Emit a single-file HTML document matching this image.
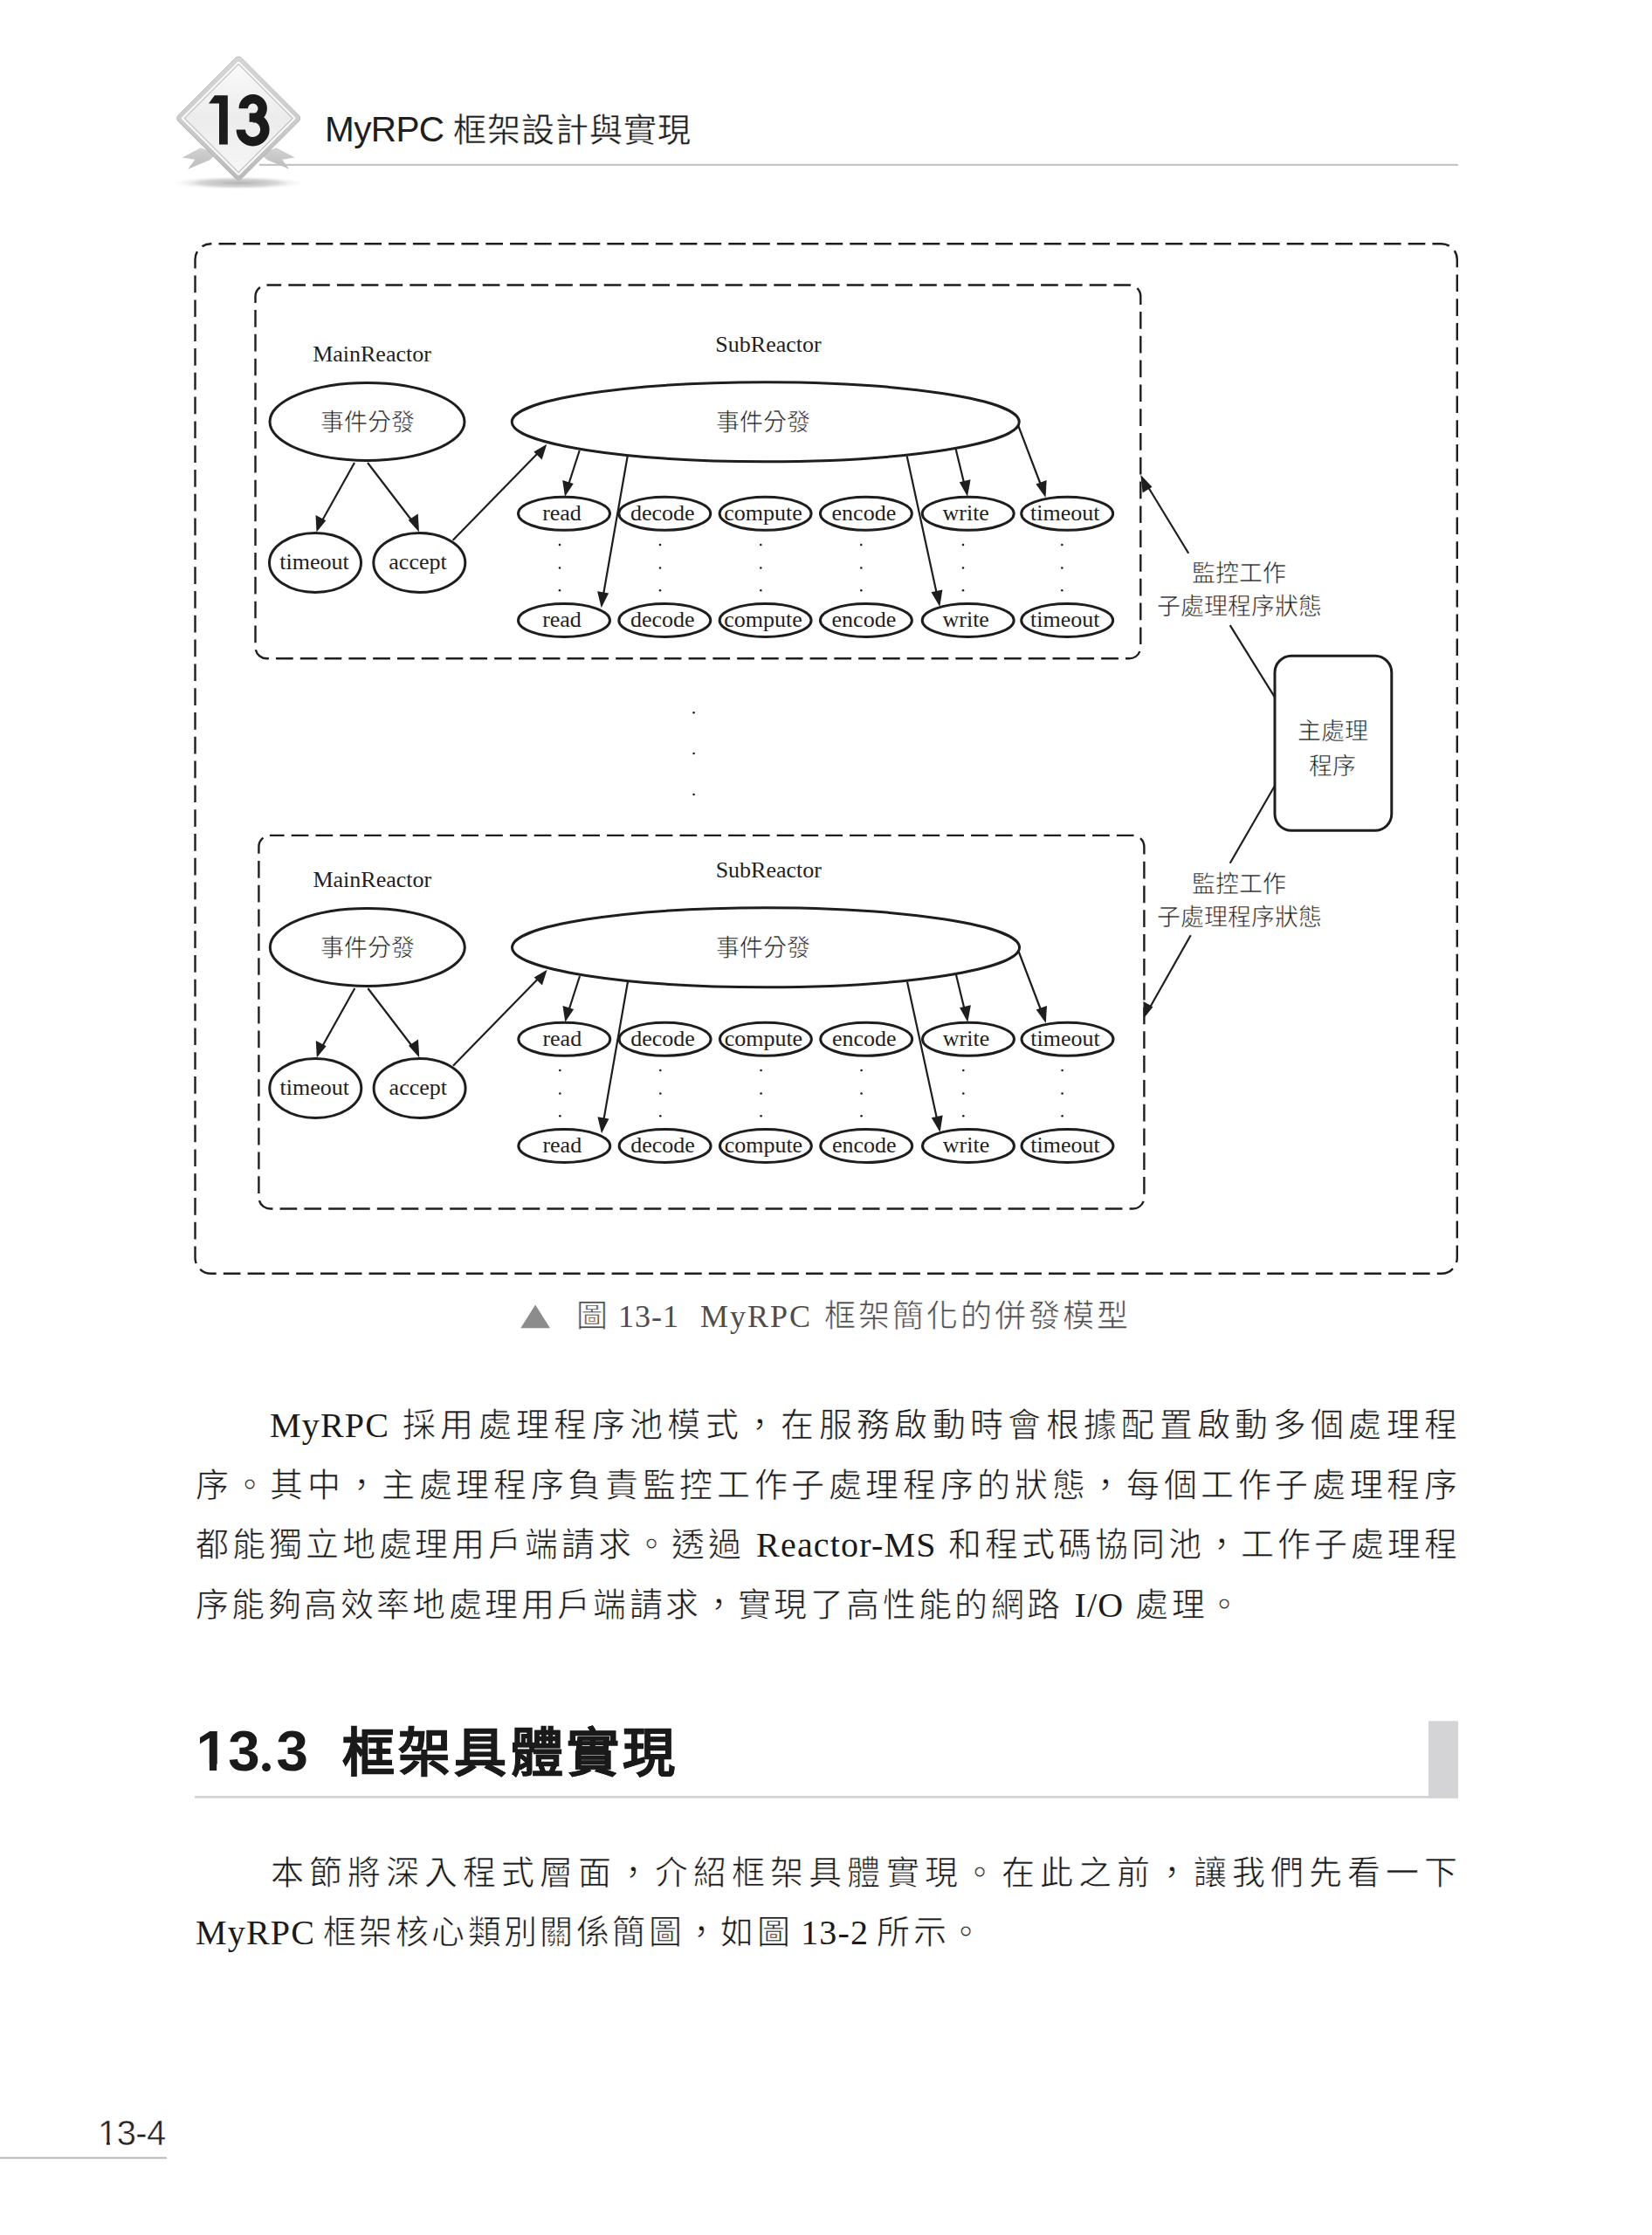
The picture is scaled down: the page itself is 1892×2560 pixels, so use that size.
<!DOCTYPE html>
<html lang="zh-TW">
<head>
<meta charset="utf-8">
<title>MyRPC 框架設計與實現</title>
<style>
html,body{margin:0;padding:0;background:#fff;}
body{width:1892px;height:2560px;position:relative;overflow:hidden;font-family:"Liberation Serif",serif;color:#1a1a1a;}
.abs{position:absolute;white-space:nowrap;}
#diag{position:absolute;left:0;top:0;}
.hdr{font-family:"Liberation Sans",sans-serif;font-size:40.5px;color:#1e1e1e;left:372px;top:120px;line-height:56px;letter-spacing:-0.6px;}
.pn{font-family:"Liberation Sans",sans-serif;font-size:40px;color:#222;left:112px;top:2415px;line-height:56px;letter-spacing:-0.6px;-webkit-text-stroke:0.5px #fff;}
.cap{font-size:36px;color:#4d4d4d;line-height:50px;margin-top:1.5px;-webkit-text-stroke:0.6px #fff;}
.ln{position:absolute;left:224px;width:1445px;font-size:38px;line-height:50px;white-space:nowrap;text-align:justify;text-align-last:justify;color:#1a1a1a;-webkit-text-stroke:0.65px #fff;}
.ln .l{font-size:40px;letter-spacing:1.2px;-webkit-text-stroke:0;position:relative;top:1.2px;}
.h2{font-family:"Liberation Sans",sans-serif;font-weight:bold;color:#1a1a1a;}
</style>
</head>
<body>

<!-- header title -->
<div class="abs hdr">MyRPC <span style="font-size:38px;letter-spacing:0.9px;-webkit-text-stroke:0.35px #fff;">框架設計與實現</span></div>

<!-- page number -->
<div class="abs pn">13-4</div>

<!-- section heading -->
<div class="abs h2" style="left:224.5px;top:1965.5px;font-size:65.5px;line-height:80px;letter-spacing:0.3px;">13.3</div>
<div class="abs h2" style="left:392px;top:1969px;font-size:60px;line-height:80px;letter-spacing:4.2px;-webkit-text-stroke:0.4px #1a1a1a;">框架具體實現</div>

<!-- caption -->
<div class="abs cap" style="left:660px;top:1481px;">圖</div>
<div class="abs cap" style="left:708px;top:1481px;letter-spacing:1px;-webkit-text-stroke:0;">13-1</div>
<div class="abs cap" style="left:802px;top:1481px;letter-spacing:2px;-webkit-text-stroke:0;">MyRPC</div>
<div class="abs cap" style="left:944px;top:1481px;letter-spacing:3px;">框架簡化的併發模型</div>

<!-- paragraph 1 -->
<div class="ln" style="top:1607px;left:309px;width:1360px;"><span class="l">MyRPC</span> 採用處理程序池模式，在服務啟動時會根據配置啟動多個處理程</div>
<div class="ln" style="top:1676px;">序。其中，主處理程序負責監控工作子處理程序的狀態，每個工作子處理程序</div>
<div class="ln" style="top:1744px;">都能獨立地處理用戶端請求。透過 <span class="l">Reactor-MS</span> 和程式碼協同池，工作子處理程</div>
<div class="ln" style="top:1813px;width:auto;text-align:left;letter-spacing:3.4px;">序能夠高效率地處理用戶端請求，實現了高性能的網路 <span class="l">I/O</span> 處理。</div>

<!-- paragraph 2 -->
<div class="ln" style="top:2120px;left:310px;width:1359px;">本節將深入程式層面，介紹框架具體實現。在此之前，讓我們先看一下</div>
<div class="ln" style="top:2188px;width:auto;text-align:left;letter-spacing:3.4px;word-spacing:-4px;"><span class="l">MyRPC</span> 框架核心類別關係簡圖，如圖 <span class="l">13-2</span> 所示。</div>

<svg id="diag" width="1892" height="2560" viewBox="0 0 1892 2560">
<defs>
  <linearGradient id="bgFace" x1="0" y1="0" x2="1" y2="1">
    <stop offset="0" stop-color="#fafafa"/>
    <stop offset="0.5" stop-color="#ececec"/>
    <stop offset="1" stop-color="#f6f6f6"/>
  </linearGradient>
  <linearGradient id="rim" x1="0" y1="0" x2="1" y2="1">
    <stop offset="0" stop-color="#d6d6d6"/>
    <stop offset="0.5" stop-color="#cdcdcd"/>
    <stop offset="1" stop-color="#b9b9b9"/>
  </linearGradient>
  <linearGradient id="rib" x1="0" y1="0" x2="0" y2="1">
    <stop offset="0" stop-color="#d2d2d2"/>
    <stop offset="1" stop-color="#bcbcbc"/>
  </linearGradient>
  <radialGradient id="shadow" cx="0.5" cy="0.5" r="0.5">
    <stop offset="0" stop-color="#b4b4b4"/>
    <stop offset="0.55" stop-color="#d6d6d6"/>
    <stop offset="1" stop-color="#ffffff" stop-opacity="0"/>
  </radialGradient>
</defs>

<!-- header rule -->
<rect x="297" y="187.8" width="1373" height="2.1" fill="#c2c2c2"/>

<!-- badge -->
<g id="badge">
  <ellipse cx="273" cy="209.5" rx="80" ry="8" fill="url(#shadow)"/>
  <!-- ribbons -->
  <path d="M229.9 169.2 L208.6 180.6 L223.3 182.8 L215.2 193.7 L240.2 183.3 L248 176 Z" fill="url(#rib)"/>
  <path d="M316.5 169.2 L337.8 180.6 L323.1 182.8 L331.2 193.7 L306.2 183.3 L298.4 176 Z" fill="url(#rib)"/>
  <g transform="translate(273.2 135.5) rotate(45)">
    <rect x="-51.3" y="-51.3" width="102.6" height="102.6" rx="5" fill="url(#rim)" stroke="#b4b4b4" stroke-width="0.8"/>
    <rect x="-47" y="-47" width="94" height="94" rx="2" fill="#f8f8f8" stroke="#c4c4c4" stroke-width="0.7"/>
    <rect x="-43.8" y="-43.8" width="87.6" height="87.6" fill="url(#bgFace)" stroke="#bdbdbd" stroke-width="1.1"/>
  </g>
  <path d="M239 118.5 L245.8 109.3 L260.8 109.3 L260.8 165.6 L251 165.6 L251 118.5 Z" fill="#1b1b1b"/>
  <path d="M278.7 124.3 A11 11 0 1 1 289.7 135.3 M285.6 134.6 L289.9 134.6 A13.8 13.8 0 1 1 275.8 148.4" fill="none" stroke="#1b1b1b" stroke-width="10.4"/>
</g>

<!-- ============ DIAGRAM ============ -->
<g fill="none" stroke="#1e1e1e" stroke-width="2.4" stroke-dasharray="19.7 8.1">
  <rect x="223.5" y="279.2" width="1445.3" height="1179.6" rx="18" stroke-dashoffset="18.8"/>
  <rect x="292.5" y="326.5" width="1013.8" height="427.8" rx="13" stroke-dashoffset="3"/>
  <rect x="296.4" y="956.9" width="1014" height="427.6" rx="13" stroke-dashoffset="3.5"/>
</g>

<g id="sub1">
<g fill="none" stroke="#1e1e1e" stroke-width="3">
  <ellipse cx="420.5" cy="483" rx="111.5" ry="44.5"/>
  <ellipse cx="876.75" cy="483.25" rx="290.5" ry="45.5"/>
  <ellipse cx="361" cy="644.5" rx="52.5" ry="34"/>
  <ellipse cx="480.3" cy="644.5" rx="52.5" ry="34"/>
  <ellipse cx="646" cy="588.3" rx="52.5" ry="19"/>
  <ellipse cx="761.3" cy="588.3" rx="52.5" ry="19"/>
  <ellipse cx="876.6" cy="588.3" rx="52.5" ry="19"/>
  <ellipse cx="991.9" cy="588.3" rx="52.5" ry="19"/>
  <ellipse cx="1108.7" cy="588.3" rx="52.5" ry="19"/>
  <ellipse cx="1222.2" cy="588.3" rx="52.5" ry="19"/>
  <ellipse cx="646" cy="710.5" rx="52.5" ry="19"/>
  <ellipse cx="761.3" cy="710.5" rx="52.5" ry="19"/>
  <ellipse cx="876.6" cy="710.5" rx="52.5" ry="19"/>
  <ellipse cx="991.9" cy="710.5" rx="52.5" ry="19"/>
  <ellipse cx="1108.7" cy="710.5" rx="52.5" ry="19"/>
  <ellipse cx="1222.2" cy="710.5" rx="52.5" ry="19"/>
</g>
<g stroke="#1e1e1e" stroke-width="2.2" fill="none">
  <line x1="406" y1="530" x2="368" y2="598"/>
  <line x1="421" y1="530" x2="473" y2="598"/>
  <line x1="518.7" y1="618.7" x2="617" y2="518"/>
  <line x1="663.7" y1="516" x2="650.5" y2="557"/>
  <line x1="718.7" y1="522.5" x2="690.5" y2="684"/>
  <line x1="1094.5" y1="513.7" x2="1105" y2="557"/>
  <line x1="1166.2" y1="487.5" x2="1193" y2="558"/>
  <line x1="1038.7" y1="522.5" x2="1073.5" y2="683"/>
</g>
<g fill="#1e1e1e">
  <!-- arrowheads: tip, base-left, base-right -->
  <path d="M362.5 609.5 L361.5 590 L373.3 596.2 Z"/>
  <path d="M480 609.5 L467.7 595.7 L478.7 588.5 Z"/>
  <path d="M626.3 508.7 L620.6 526.5 L611.4 517.4 Z"/>
  <path d="M647 568.8 L644.2 550 L656.8 554 Z"/>
  <path d="M688.7 696.3 L684.1 677.2 L697.1 679.5 Z"/>
  <path d="M1108 568.8 L1098.8 552.3 L1111.6 549.2 Z"/>
  <path d="M1197.5 570 L1186.4 554.6 L1198.7 549.9 Z"/>
  <path d="M1076.3 695 L1066.5 678.3 L1079.4 675.5 Z"/>
</g>
<g fill="#1e1e1e" font-size="26" font-family="Liberation Serif, serif" text-anchor="middle">
  <text x="426" y="413.8">MainReactor</text>
  <text x="880" y="402.5">SubReactor</text>
  <text x="360" y="651.5">timeout</text>
  <text x="478.5" y="651.5">accept</text>
  <g>
  <text x="643.5" y="595.5">read</text>
  <text x="758.8" y="595.5">decode</text>
  <text x="874.1" y="595.5">compute</text>
  <text x="989.4" y="595.5">encode</text>
  <text x="1106.2" y="595.5">write</text>
  <text x="1219.7" y="595.5">timeout</text>
  <text x="643.5" y="717.7">read</text>
  <text x="758.8" y="717.7">decode</text>
  <text x="874.1" y="717.7">compute</text>
  <text x="989.4" y="717.7">encode</text>
  <text x="1106.2" y="717.7">write</text>
  <text x="1219.7" y="717.7">timeout</text>
  </g>
  <text x="421" y="493" font-size="27" stroke="#fff" stroke-width="0.55">事件分發</text>
  <text x="874" y="493" font-size="27" stroke="#fff" stroke-width="0.55">事件分發</text>
</g>
<g fill="#1e1e1e">
  <circle cx="641" cy="624" r="1.3"/><circle cx="641" cy="650.5" r="1.3"/><circle cx="641" cy="676.3" r="1.3"/>
  <circle cx="756" cy="624" r="1.3"/><circle cx="756" cy="650.5" r="1.3"/><circle cx="756" cy="676.3" r="1.3"/>
  <circle cx="871.3" cy="624" r="1.3"/><circle cx="871.3" cy="650.5" r="1.3"/><circle cx="871.3" cy="676.3" r="1.3"/>
  <circle cx="986.3" cy="624" r="1.3"/><circle cx="986.3" cy="650.5" r="1.3"/><circle cx="986.3" cy="676.3" r="1.3"/>
  <circle cx="1103" cy="624" r="1.3"/><circle cx="1103" cy="650.5" r="1.3"/><circle cx="1103" cy="676.3" r="1.3"/>
  <circle cx="1216.3" cy="624" r="1.3"/><circle cx="1216.3" cy="650.5" r="1.3"/><circle cx="1216.3" cy="676.3" r="1.3"/>
</g>
</g>
<use href="#sub1" x="0.3" y="602"/>

<!-- middle dots -->
<g fill="#1e1e1e">
  <circle cx="794.6" cy="816.3" r="1.3"/><circle cx="794.6" cy="863" r="1.3"/><circle cx="794.6" cy="910" r="1.3"/>
</g>

<!-- main process box -->
<rect x="1460" y="751.3" width="133.8" height="200" rx="19" fill="none" stroke="#1e1e1e" stroke-width="3"/>
<g fill="#1e1e1e" font-size="27" font-family="Liberation Serif, serif" text-anchor="middle" stroke="#fff" stroke-width="0.55">
  <text x="1526" y="846.5">主處理</text>
  <text x="1526" y="887">程序</text>
  <text x="1419.4" y="666">監控工作</text>
  <text x="1419.4" y="703.5">子處理程序狀態</text>
  <text x="1419.4" y="1022">監控工作</text>
  <text x="1419.4" y="1059.5">子處理程序狀態</text>
</g>
<g stroke="#1e1e1e" stroke-width="2.2" fill="none">
  <line x1="1361.2" y1="633.7" x2="1312" y2="553"/>
  <line x1="1408.7" y1="716.2" x2="1460" y2="798.7"/>
  <line x1="1460" y1="900" x2="1408.7" y2="988.7"/>
  <line x1="1363.7" y1="1071.2" x2="1315.5" y2="1156.5"/>
</g>
<g fill="#1e1e1e">
  <path d="M1306.3 543.8 L1319.5 557.8 L1308.6 564.4 Z"/>
  <path d="M1310 1166.3 L1309.4 1147 L1320.5 1153.3 Z"/>
</g>

<!-- caption triangle -->
<path d="M613.1 1494.5 L630 1521.3 L596.3 1521.3 Z" fill="#8c8c8c"/>

<!-- section bar + rule -->
<rect x="1636" y="1971.3" width="34" height="88" fill="#d4d4d7"/>
<rect x="223" y="2057" width="1447" height="2.7" fill="#d3d3d3"/>

<!-- footer rule -->
<rect x="0" y="2470.7" width="191" height="2" fill="#b8b8b8"/>
<!-- hide serif foot of Liberation "1" (target font has plain 1) -->
<g fill="#fff">
  <rect x="227" y="2020.6" width="12.9" height="7.6"/>
  <rect x="248.2" y="2020.6" width="12.6" height="7.6"/>
  <rect x="301.8" y="2017.4" width="11" height="11.6"/>
  <rect x="114.4" y="2453.6" width="7.5" height="3.6"/>
  <rect x="125.9" y="2453.6" width="6.8" height="3.6"/>
</g>
<circle cx="305" cy="2024.2" r="4.9" fill="#1a1a1a"/>
</svg>
</body>
</html>
